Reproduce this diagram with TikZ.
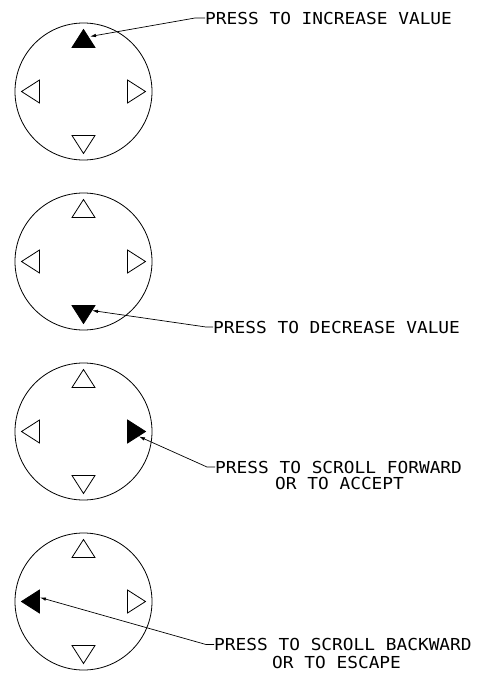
\documentclass[tikz,border=0pt]{standalone}
\usepackage{fontspec}
\newfontfamily\cadfont[FakeStretch=1.08]{DejaVu Sans Mono}
\usetikzlibrary{arrows.meta,calc}

\tikzset{
  dial/.style={draw, circle, minimum size=137pt, inner sep=0pt, line width=0.8pt},
  callout/.style={anchor=west, inner sep=0pt, font=\cadfont\fontsize{16.5}{16.5}\selectfont},
  leader/.style={line width=0.7pt, -{Latex[length=6pt,width=3.5pt]}},
  openkey/.style={draw, line width=0.8pt, line join=miter},
  pressed/.style={draw, fill=black, line width=0.8pt},
  pics/keyup/.style={code={\path[pic actions] (-11.5,-44) -- (0,-62) -- (11.5,-44) -- cycle;}},
  pics/keydown/.style={code={\path[pic actions] (-11.5,44) -- (0,62) -- (11.5,44) -- cycle;}},
  pics/keyleft/.style={code={\path[pic actions] (-44,-11.5) -- (-62,0) -- (-44,11.5) -- cycle;}},
  pics/keyright/.style={code={\path[pic actions] (44,-11.5) -- (62,0) -- (44,11.5) -- cycle;}},
}

\begin{document}
\begin{tikzpicture}[x=1pt, y=-1pt]
\useasboundingbox (0,0) rectangle (478,673);

% four keypads, 170pt apart
\node[dial] (d1) at (83.5,91.5) {};
\node[dial] (d2) at (83.5,261.5) {};
\node[dial] (d3) at (83.5,431.5) {};
\node[dial] (d4) at (83.5,601.5) {};

% keypad 1: up key pressed
\pic[pressed] at (d1) {keyup};
\pic[openkey] at (d1) {keydown};
\pic[openkey] at (d1) {keyleft};
\pic[openkey] at (d1) {keyright};

% keypad 2: down key pressed
\pic[openkey] at (d2) {keyup};
\pic[pressed] at (d2) {keydown};
\pic[openkey] at (d2) {keyleft};
\pic[openkey] at (d2) {keyright};

% keypad 3: right key pressed
\pic[openkey] at (d3) {keyup};
\pic[openkey] at (d3) {keydown};
\pic[openkey] at (d3) {keyleft};
\pic[pressed] at (d3) {keyright};

% keypad 4: left key pressed
\pic[openkey] at (d4) {keyup};
\pic[openkey] at (d4) {keydown};
\pic[pressed] at (d4) {keyleft};
\pic[openkey] at (d4) {keyright};

% captions
\node[callout] (t1) at (205,18) {PRESS TO INCREASE VALUE};
\node[callout] (t2) at (213,327) {PRESS TO DECREASE VALUE};
\node[callout] (t3) at (215,467) {PRESS TO SCROLL FORWARD};
\node[callout] (t3b) at (275,483.5) {OR TO ACCEPT};
\node[callout] (t4) at (214,644.5) {PRESS TO SCROLL BACKWARD};
\node[callout] (t4b) at (272,662) {OR TO ESCAPE};

% leader end points on the pressed keys
\coordinate (p1) at (90,36.5);
\coordinate (p2) at (92,310.5);
\coordinate (p3) at (139,436.5);
\coordinate (p4) at (40,597.5);

% leaders
\draw[leader] (t1.west) -- ++(-10,0) -- (p1);
\draw[leader] (t2.west) -- ++(-7,0) -- (p2);
\draw[leader] (t3.west) -- ++(-8,0) -- (p3);
\draw[leader] (t4.west) -- ++(-8,0) -- (p4);
\end{tikzpicture}
\end{document}
